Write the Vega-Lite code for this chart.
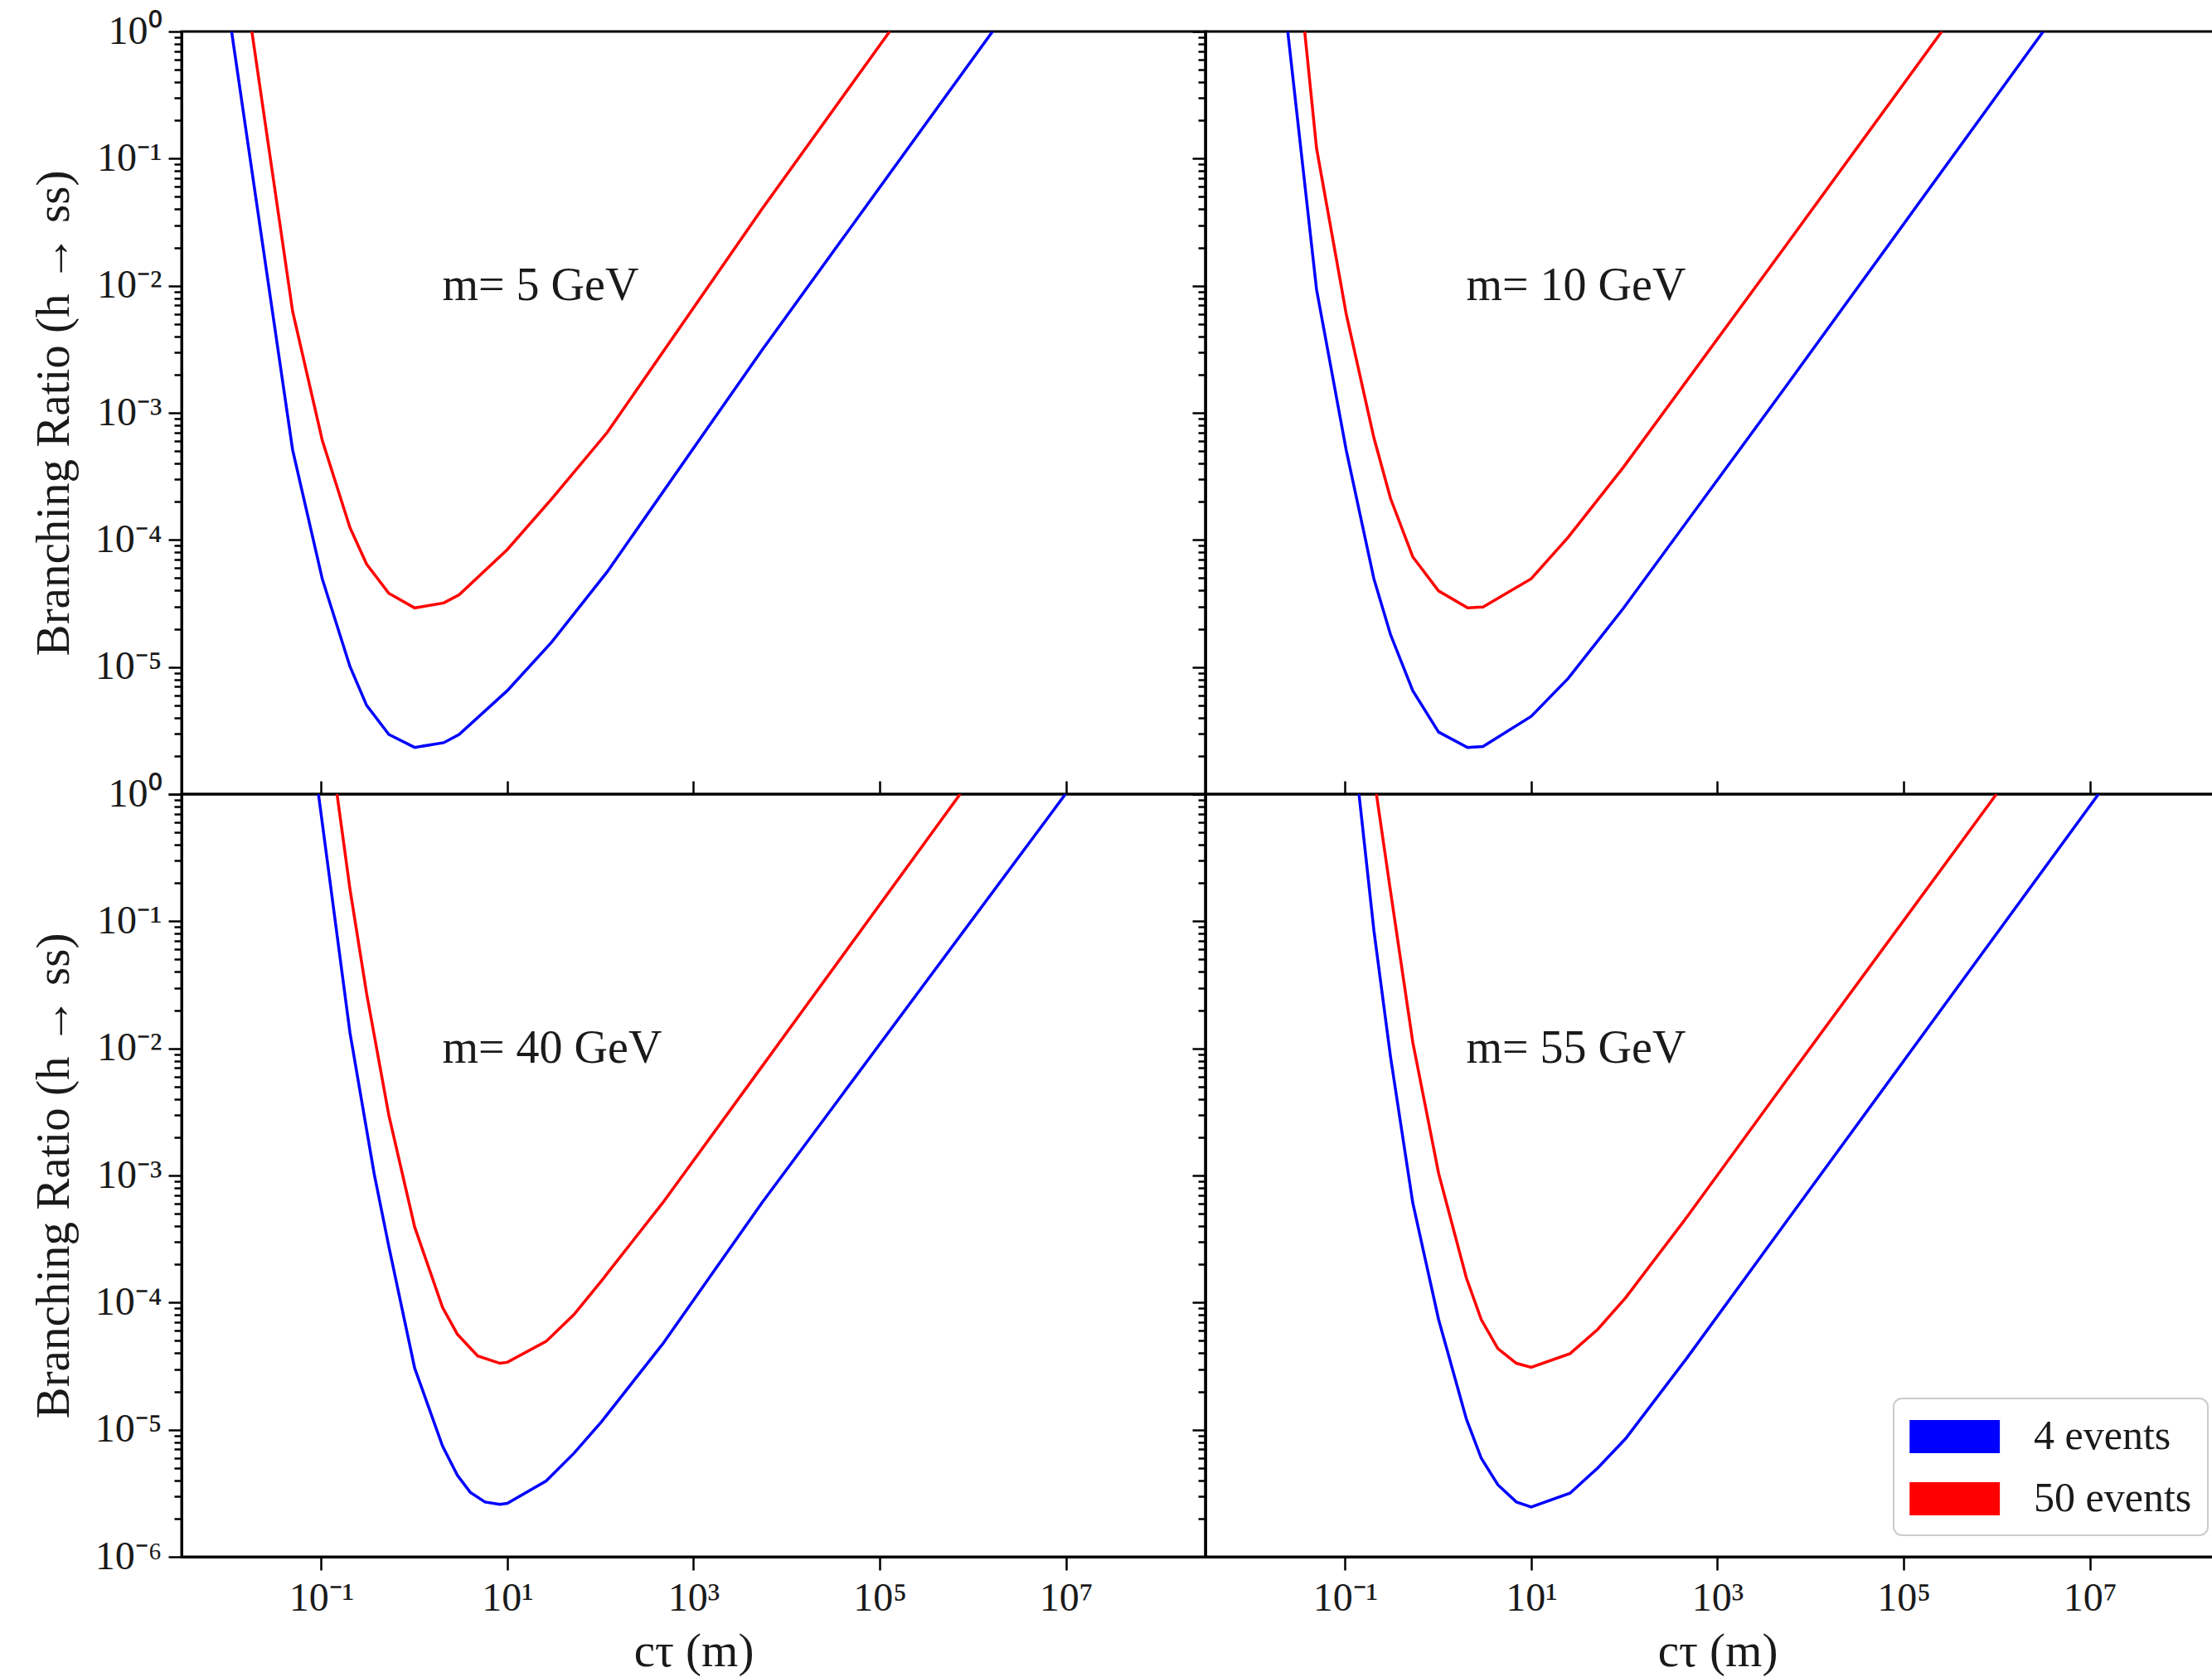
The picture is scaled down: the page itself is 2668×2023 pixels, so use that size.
{
  "$schema": "https://vega.github.io/schema/vega-lite/v6.json",
  "padding": {"left": 34, "top": 12, "right": 0, "bottom": 0},
  "background": "white",
  "columns": 2,
  "spacing": 0,
  "bounds": "flush",
  "resolve": {"scale": {"color": "independent"}, "legend": {"color": "independent"}},
  "config": {
    "font": "Liberation Serif",
    "view": {"stroke": "black", "strokeWidth": 3},
    "axis": {"grid": false, "domainColor": "black", "domainWidth": 3, "tickColor": "black", "tickWidth": 2.5, "labelFont": "Liberation Serif", "labelColor": "#1a1a1a", "labelFontSize": 48, "titleFont": "Liberation Serif", "titleFontWeight": "normal", "titleColor": "#1a1a1a", "titleFontSize": 57, "labelOverlap": false, "labelFlush": false, "labelBound": false}
  },
  "datasets": {
    "curves": [
      {"m":5,"n":"4 events","ct":0.0109,"br":1},{"m":5,"n":"4 events","ct":0.0493,"br":5.12e-4},{"m":5,"n":"4 events","ct":0.1026,"br":4.95e-5},{"m":5,"n":"4 events","ct":0.2037,"br":1.01e-5},{"m":5,"n":"4 events","ct":0.3076,"br":5.0e-6},{"m":5,"n":"4 events","ct":0.533,"br":2.95e-6},{"m":5,"n":"4 events","ct":1.01,"br":2.33e-6},{"m":5,"n":"4 events","ct":2.07,"br":2.54e-6},{"m":5,"n":"4 events","ct":3.03,"br":2.95e-6},{"m":5,"n":"4 events","ct":9.98,"br":6.52e-6},{"m":5,"n":"4 events","ct":29.9,"br":1.57e-5},{"m":5,"n":"4 events","ct":118,"br":5.6e-5},{"m":5,"n":"4 events","ct":5430,"br":3.11e-3},{"m":5,"n":"4 events","ct":1630000,"br":1},
      {"m":5,"n":"50 events","ct":0.0180,"br":1},{"m":5,"n":"50 events","ct":0.0493,"br":6.3e-3},{"m":5,"n":"50 events","ct":0.1026,"br":6.1e-4},{"m":5,"n":"50 events","ct":0.2037,"br":1.25e-4},{"m":5,"n":"50 events","ct":0.3076,"br":6.45e-5},{"m":5,"n":"50 events","ct":0.533,"br":3.80e-5},{"m":5,"n":"50 events","ct":1.01,"br":2.92e-5},{"m":5,"n":"50 events","ct":2.07,"br":3.19e-5},{"m":5,"n":"50 events","ct":3.03,"br":3.70e-5},{"m":5,"n":"50 events","ct":9.98,"br":8.4e-5},{"m":5,"n":"50 events","ct":29.9,"br":2.1e-4},{"m":5,"n":"50 events","ct":118,"br":7.0e-4},{"m":5,"n":"50 events","ct":5430,"br":4.01e-2},{"m":5,"n":"50 events","ct":128000,"br":1},
      {"m":10,"n":"4 events","ct":0.0242,"br":1},{"m":10,"n":"4 events","ct":0.0493,"br":9.37e-3},{"m":10,"n":"4 events","ct":0.1026,"br":5.12e-4},{"m":10,"n":"4 events","ct":0.2037,"br":4.95e-5},{"m":10,"n":"4 events","ct":0.3076,"br":1.80e-5},{"m":10,"n":"4 events","ct":0.533,"br":6.52e-6},{"m":10,"n":"4 events","ct":1.01,"br":3.08e-6},{"m":10,"n":"4 events","ct":2.07,"br":2.33e-6},{"m":10,"n":"4 events","ct":3.03,"br":2.37e-6},{"m":10,"n":"4 events","ct":9.98,"br":4.09e-6},{"m":10,"n":"4 events","ct":24.9,"br":8.13e-6},{"m":10,"n":"4 events","ct":98.4,"br":2.92e-5},{"m":10,"n":"4 events","ct":5430,"br":1.61e-3},{"m":10,"n":"4 events","ct":3160000,"br":1},
      {"m":10,"n":"50 events","ct":0.0368,"br":1},{"m":10,"n":"50 events","ct":0.0493,"br":0.121},{"m":10,"n":"50 events","ct":0.1026,"br":6.03e-3},{"m":10,"n":"50 events","ct":0.2037,"br":6.37e-4},{"m":10,"n":"50 events","ct":0.3076,"br":2.12e-4},{"m":10,"n":"50 events","ct":0.533,"br":7.36e-5},{"m":10,"n":"50 events","ct":1.01,"br":3.97e-5},{"m":10,"n":"50 events","ct":2.07,"br":2.92e-5},{"m":10,"n":"50 events","ct":3.03,"br":2.97e-5},{"m":10,"n":"50 events","ct":9.98,"br":4.95e-5},{"m":10,"n":"50 events","ct":24.9,"br":1.05e-4},{"m":10,"n":"50 events","ct":98.4,"br":3.76e-4},{"m":10,"n":"50 events","ct":5430,"br":2.07e-2},{"m":10,"n":"50 events","ct":257000,"br":1},
      {"m":40,"n":"4 events","ct":0.0935,"br":1},{"m":40,"n":"4 events","ct":0.2037,"br":1.33e-2},{"m":40,"n":"4 events","ct":0.370,"br":1.04e-3},{"m":40,"n":"4 events","ct":0.533,"br":2.76e-4},{"m":40,"n":"4 events","ct":1.01,"br":3.05e-5},{"m":40,"n":"4 events","ct":2.01,"br":7.45e-6},{"m":40,"n":"4 events","ct":2.90,"br":4.39e-6},{"m":40,"n":"4 events","ct":3.99,"br":3.22e-6},{"m":40,"n":"4 events","ct":5.75,"br":2.70e-6},{"m":40,"n":"4 events","ct":8.30,"br":2.59e-6},{"m":40,"n":"4 events","ct":9.98,"br":2.63e-6},{"m":40,"n":"4 events","ct":26.1,"br":3.95e-6},{"m":40,"n":"4 events","ct":51.9,"br":6.52e-6},{"m":40,"n":"4 events","ct":103,"br":1.16e-5},{"m":40,"n":"4 events","ct":467,"br":4.73e-5},{"m":40,"n":"4 events","ct":5430,"br":6.10e-4},{"m":40,"n":"4 events","ct":9890000,"br":1},
      {"m":40,"n":"50 events","ct":0.148,"br":1},{"m":40,"n":"50 events","ct":0.2037,"br":0.1795},{"m":40,"n":"50 events","ct":0.3076,"br":2.70e-2},{"m":40,"n":"50 events","ct":0.533,"br":2.98e-3},{"m":40,"n":"50 events","ct":1.01,"br":3.93e-4},{"m":40,"n":"50 events","ct":2.01,"br":9.18e-5},{"m":40,"n":"50 events","ct":2.90,"br":5.65e-5},{"m":40,"n":"50 events","ct":4.80,"br":3.80e-5},{"m":40,"n":"50 events","ct":8.30,"br":3.33e-5},{"m":40,"n":"50 events","ct":9.98,"br":3.39e-5},{"m":40,"n":"50 events","ct":26.1,"br":4.95e-5},{"m":40,"n":"50 events","ct":51.9,"br":8.04e-5},{"m":40,"n":"50 events","ct":103,"br":1.49e-4},{"m":40,"n":"50 events","ct":467,"br":6.10e-4},{"m":40,"n":"50 events","ct":5430,"br":7.19e-3},{"m":40,"n":"50 events","ct":731000,"br":1},
      {"m":55,"n":"4 events","ct":0.141,"br":1},{"m":55,"n":"4 events","ct":0.2037,"br":8.48e-2},{"m":55,"n":"4 events","ct":0.3076,"br":8.57e-3},{"m":55,"n":"4 events","ct":0.533,"br":6.10e-4},{"m":55,"n":"4 events","ct":1.01,"br":7.36e-5},{"m":55,"n":"4 events","ct":2.01,"br":1.21e-5},{"m":55,"n":"4 events","ct":2.90,"br":5.97e-6},{"m":55,"n":"4 events","ct":4.38,"br":3.68e-6},{"m":55,"n":"4 events","ct":6.92,"br":2.70e-6},{"m":55,"n":"4 events","ct":9.98,"br":2.47e-6},{"m":55,"n":"4 events","ct":26.1,"br":3.17e-6},{"m":55,"n":"4 events","ct":51.9,"br":5.01e-6},{"m":55,"n":"4 events","ct":103,"br":8.49e-6},{"m":55,"n":"4 events","ct":467,"br":3.64e-5},{"m":55,"n":"4 events","ct":5430,"br":4.28e-4},{"m":55,"n":"4 events","ct":12400000,"br":1},
      {"m":55,"n":"50 events","ct":0.217,"br":1},{"m":55,"n":"50 events","ct":0.3076,"br":0.172},{"m":55,"n":"50 events","ct":0.533,"br":1.12e-2},{"m":55,"n":"50 events","ct":1.01,"br":1.04e-3},{"m":55,"n":"50 events","ct":2.01,"br":1.56e-4},{"m":55,"n":"50 events","ct":2.90,"br":7.36e-5},{"m":55,"n":"50 events","ct":4.38,"br":4.34e-5},{"m":55,"n":"50 events","ct":6.92,"br":3.33e-5},{"m":55,"n":"50 events","ct":9.98,"br":3.10e-5},{"m":55,"n":"50 events","ct":26.1,"br":3.97e-5},{"m":55,"n":"50 events","ct":51.9,"br":6.17e-5},{"m":55,"n":"50 events","ct":103,"br":1.09e-4},{"m":55,"n":"50 events","ct":467,"br":4.68e-4},{"m":55,"n":"50 events","ct":5430,"br":5.52e-3},{"m":55,"n":"50 events","ct":993000,"br":1}
    ]
  },
  "concat": [
    {
      "width": 1235, "height": 920,
      "layer": [
        {
          "data": {"name": "curves"},
          "transform": [{"filter": "datum.m == 5"}],
          "mark": {"type": "line", "strokeWidth": 3.5, "clip": true},
          "encoding": {
            "x": {"field": "ct", "type": "quantitative", "scale": {"type": "log", "domain": [0.0031623, 316227766], "nice": false},
                  "axis": {"values": [0.1, 10, 1000, 100000, 10000000], "labels": false, "tickSize": -16, "domain": false, "title": null}},
            "y": {"field": "br", "type": "quantitative", "scale": {"type": "log", "domain": [1e-6, 1], "nice": false},
                  "axis": {"values": [1e-6,2e-6,3e-6,4e-6,5e-6,6e-6,7e-6,8e-6,9e-6,1e-5,2e-5,3e-5,4e-5,5e-5,6e-5,7e-5,8e-5,9e-5,1e-4,2e-4,3e-4,4e-4,5e-4,6e-4,7e-4,8e-4,9e-4,1e-3,2e-3,3e-3,4e-3,5e-3,6e-3,7e-3,8e-3,9e-3,0.01,0.02,0.03,0.04,0.05,0.06,0.07,0.08,0.09,0.1,0.2,0.3,0.4,0.5,0.6,0.7,0.8,0.9,1],
                           "labelExpr": "(abs(log(datum.value)/LN10-round(log(datum.value)/LN10))<0.01 && datum.value > 5e-6) ? '10'+(round(log(datum.value)/LN10)<0?'⁻':'')+['⁰','¹','²','³','⁴','⁵','⁶','⁷','⁸','⁹'][abs(round(log(datum.value)/LN10))] : ''",
                           "tickSize": {"condition": {"test": "abs(log(datum.value)/LN10-round(log(datum.value)/LN10))<0.01", "value": 16}, "value": 9},
                           "labelPadding": 8, "title": "Branching Ratio (h → ss)", "titlePadding": 20}},
            "color": {"field": "n", "type": "nominal", "scale": {"domain": ["4 events", "50 events"], "range": ["#0000ff", "#ff0000"]}, "legend": null}
          }
        },
        {
          "data": {"values": [{"label": "m= 5 GeV"}]},
          "mark": {"type": "text", "align": "left", "baseline": "middle", "fontSize": 56, "font": "Liberation Serif", "color": "#1a1a1a"},
          "encoding": {"x": {"datum": 2, "type": "quantitative"}, "y": {"datum": 0.01, "type": "quantitative"}, "text": {"field": "label"}}
        }
      ]
    },
    {
      "width": 1235, "height": 920,
      "layer": [
        {
          "data": {"name": "curves"},
          "transform": [{"filter": "datum.m == 10"}],
          "mark": {"type": "line", "strokeWidth": 3.5, "clip": true},
          "encoding": {
            "x": {"field": "ct", "type": "quantitative", "scale": {"type": "log", "domain": [0.0031623, 316227766], "nice": false},
                  "axis": {"values": [0.1, 10, 1000, 100000, 10000000], "labels": false, "tickSize": -16, "domain": false, "title": null}},
            "y": {"field": "br", "type": "quantitative", "scale": {"type": "log", "domain": [1e-6, 1], "nice": false},
                  "axis": {"values": [1e-6,2e-6,3e-6,4e-6,5e-6,6e-6,7e-6,8e-6,9e-6,1e-5,2e-5,3e-5,4e-5,5e-5,6e-5,7e-5,8e-5,9e-5,1e-4,2e-4,3e-4,4e-4,5e-4,6e-4,7e-4,8e-4,9e-4,1e-3,2e-3,3e-3,4e-3,5e-3,6e-3,7e-3,8e-3,9e-3,0.01,0.02,0.03,0.04,0.05,0.06,0.07,0.08,0.09,0.1,0.2,0.3,0.4,0.5,0.6,0.7,0.8,0.9,1],
                           "labels": false,
                           "tickSize": {"condition": {"test": "abs(log(datum.value)/LN10-round(log(datum.value)/LN10))<0.01", "value": 16}, "value": 9},
                           "title": null}},
            "color": {"field": "n", "type": "nominal", "scale": {"domain": ["4 events", "50 events"], "range": ["#0000ff", "#ff0000"]}, "legend": null}
          }
        },
        {
          "data": {"values": [{"label": "m= 10 GeV"}]},
          "mark": {"type": "text", "align": "left", "baseline": "middle", "fontSize": 56, "font": "Liberation Serif", "color": "#1a1a1a"},
          "encoding": {"x": {"datum": 2, "type": "quantitative"}, "y": {"datum": 0.01, "type": "quantitative"}, "text": {"field": "label"}}
        }
      ]
    },
    {
      "width": 1235, "height": 920,
      "layer": [
        {
          "data": {"name": "curves"},
          "transform": [{"filter": "datum.m == 40"}],
          "mark": {"type": "line", "strokeWidth": 3.5, "clip": true},
          "encoding": {
            "x": {"field": "ct", "type": "quantitative", "scale": {"type": "log", "domain": [0.0031623, 316227766], "nice": false},
                  "axis": {"values": [0.1, 10, 1000, 100000, 10000000], "labelExpr": "'10'+(round(log(datum.value)/LN10)<0?'⁻':'')+['⁰','¹','²','³','⁴','⁵','⁶','⁷','⁸','⁹'][abs(round(log(datum.value)/LN10))]", "tickSize": 16, "labelPadding": 10, "title": "cτ (m)", "titlePadding": 12}},
            "y": {"field": "br", "type": "quantitative", "scale": {"type": "log", "domain": [1e-6, 1], "nice": false},
                  "axis": {"values": [1e-6,2e-6,3e-6,4e-6,5e-6,6e-6,7e-6,8e-6,9e-6,1e-5,2e-5,3e-5,4e-5,5e-5,6e-5,7e-5,8e-5,9e-5,1e-4,2e-4,3e-4,4e-4,5e-4,6e-4,7e-4,8e-4,9e-4,1e-3,2e-3,3e-3,4e-3,5e-3,6e-3,7e-3,8e-3,9e-3,0.01,0.02,0.03,0.04,0.05,0.06,0.07,0.08,0.09,0.1,0.2,0.3,0.4,0.5,0.6,0.7,0.8,0.9,1],
                           "labelExpr": "(abs(log(datum.value)/LN10-round(log(datum.value)/LN10))<0.01) ? '10'+(round(log(datum.value)/LN10)<0?'⁻':'')+['⁰','¹','²','³','⁴','⁵','⁶','⁷','⁸','⁹'][abs(round(log(datum.value)/LN10))] : ''",
                           "tickSize": {"condition": {"test": "abs(log(datum.value)/LN10-round(log(datum.value)/LN10))<0.01", "value": 16}, "value": 9},
                           "labelPadding": 8, "title": "Branching Ratio (h → ss)", "titlePadding": 20}},
            "color": {"field": "n", "type": "nominal", "scale": {"domain": ["4 events", "50 events"], "range": ["#0000ff", "#ff0000"]}, "legend": null}
          }
        },
        {
          "data": {"values": [{"label": "m= 40 GeV"}]},
          "mark": {"type": "text", "align": "left", "baseline": "middle", "fontSize": 56, "font": "Liberation Serif", "color": "#1a1a1a"},
          "encoding": {"x": {"datum": 2, "type": "quantitative"}, "y": {"datum": 0.01, "type": "quantitative"}, "text": {"field": "label"}}
        }
      ]
    },
    {
      "width": 1235, "height": 920,
      "layer": [
        {
          "data": {"name": "curves"},
          "transform": [{"filter": "datum.m == 55"}],
          "mark": {"type": "line", "strokeWidth": 3.5, "clip": true},
          "encoding": {
            "x": {"field": "ct", "type": "quantitative", "scale": {"type": "log", "domain": [0.0031623, 316227766], "nice": false},
                  "axis": {"values": [0.1, 10, 1000, 100000, 10000000], "labelExpr": "'10'+(round(log(datum.value)/LN10)<0?'⁻':'')+['⁰','¹','²','³','⁴','⁵','⁶','⁷','⁸','⁹'][abs(round(log(datum.value)/LN10))]", "tickSize": 16, "labelPadding": 10, "title": "cτ (m)", "titlePadding": 12}},
            "y": {"field": "br", "type": "quantitative", "scale": {"type": "log", "domain": [1e-6, 1], "nice": false},
                  "axis": {"values": [1e-6,2e-6,3e-6,4e-6,5e-6,6e-6,7e-6,8e-6,9e-6,1e-5,2e-5,3e-5,4e-5,5e-5,6e-5,7e-5,8e-5,9e-5,1e-4,2e-4,3e-4,4e-4,5e-4,6e-4,7e-4,8e-4,9e-4,1e-3,2e-3,3e-3,4e-3,5e-3,6e-3,7e-3,8e-3,9e-3,0.01,0.02,0.03,0.04,0.05,0.06,0.07,0.08,0.09,0.1,0.2,0.3,0.4,0.5,0.6,0.7,0.8,0.9,1],
                           "labels": false,
                           "tickSize": {"condition": {"test": "abs(log(datum.value)/LN10-round(log(datum.value)/LN10))<0.01", "value": 16}, "value": 9},
                           "title": null}},
            "color": {"field": "n", "type": "nominal", "scale": {"domain": ["4 events", "50 events"], "range": ["#0000ff", "#ff0000"]},
                      "legend": {"orient": "bottom-right", "offset": 26, "title": null,
                                 "symbolType": "M-1,-0.75H3.07V0.75H-1Z", "symbolSize": 2862, "symbolStrokeWidth": 0,
                                 "labelFontSize": 50, "labelFont": "Liberation Serif", "labelColor": "#1a1a1a", "labelLimit": 600, "labelOffset": 96,
                                 "rowPadding": 23, "padding": 19, "fillColor": "white", "strokeColor": "#cccccc", "cornerRadius": 10,
                                 "encode": {"legend": {"update": {"strokeWidth": {"value": 2}}},
                                            "symbols": {"update": {"fill": {"signal": "datum.value === '4 events' ? '#0000ff' : '#ff0000'"}, "fillOpacity": {"value": 1}, "strokeWidth": {"value": 0}}}}}}
          }
        },
        {
          "data": {"values": [{"label": "m= 55 GeV"}]},
          "mark": {"type": "text", "align": "left", "baseline": "middle", "fontSize": 56, "font": "Liberation Serif", "color": "#1a1a1a"},
          "encoding": {"x": {"datum": 2, "type": "quantitative"}, "y": {"datum": 0.01, "type": "quantitative"}, "text": {"field": "label"}}
        }
      ]
    }
  ]
}
